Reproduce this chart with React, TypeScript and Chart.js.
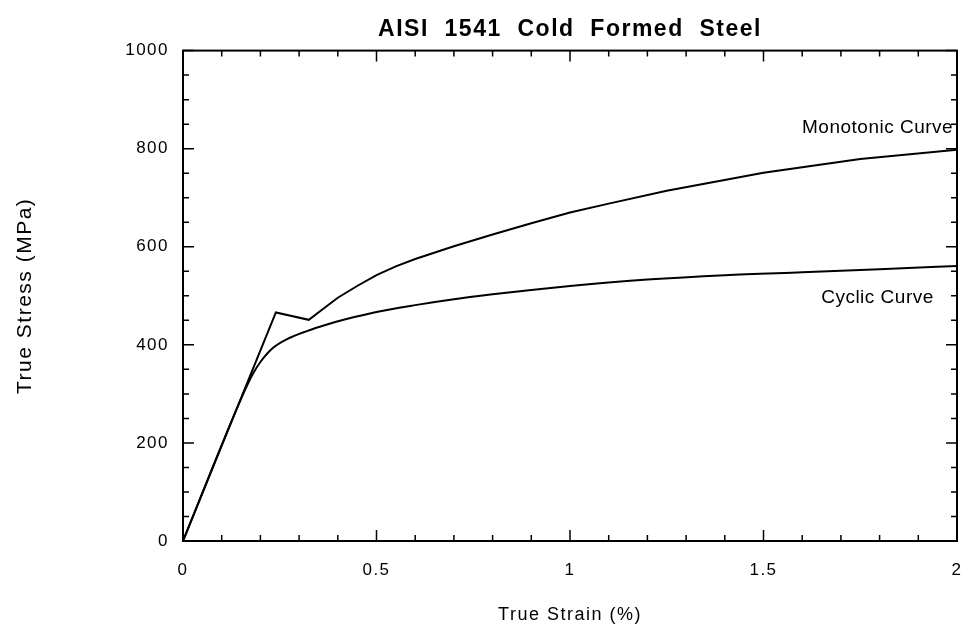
import { useEffect, useRef } from "react";
import { Chart, registerables } from "chart.js";

Chart.register(...registerables);

const chartTitle = "AISI  1541  Cold  Formed  Steel";
const xAxisTitle = "True Strain (%)";
const yAxisTitle = "True Stress (MPa)";

const monotonicStrain = [0, 0.24, 0.325, 0.36, 0.4, 0.45, 0.5, 0.55, 0.6, 0.7, 0.8, 0.9, 1.0, 1.1, 1.25, 1.5, 1.75, 2.0];
const monotonicStress = [0, 466, 451, 472, 496, 520, 542, 560, 575, 601, 625, 648, 670, 688, 714, 751, 779, 798];

const cyclicStrain = [0, 0.15, 0.18, 0.2, 0.23, 0.27, 0.32, 0.37, 0.42, 0.5, 0.6, 0.7, 0.8, 0.9, 1.0, 1.2, 1.4, 1.6, 1.8, 2.0];
const cyclicStress = [0, 290, 340, 365, 392, 412, 428, 441, 452, 467, 481, 493, 503, 512, 520, 533, 542, 548, 554, 561];

const xTickValues = [0, 0.5, 1, 1.5, 2];
const xTickLabels = ["0", "0.5", "1", "1.5", "2"];
const yTickValues = [0, 200, 400, 600, 800, 1000];
const yTickLabels = ["0", "200", "400", "600", "800", "1000"];

const xMinorStep = 0.1;
const yMinorStep = 50;

const curveLabels = ["Monotonic Curve", "Cyclic Curve"];
const curveLabelStrain = [1.99, 1.94];
const curveLabelStress = [843, 497];

const FONT = "'Liberation Sans', Arial, Helvetica, sans-serif";

const framePlugin = {
  id: "frame",
  beforeDraw(chart: any) {
    chart.ctx.letterSpacing = "1.5px";
  },
  afterDatasetsDraw(chart: any) {
    const { ctx, chartArea: a, scales } = chart;
    const xs = scales.x;
    const ys = scales.y;
    ctx.save();
    ctx.strokeStyle = "#000";
    ctx.lineWidth = 2;
    ctx.strokeRect(a.left, a.top, a.right - a.left, a.bottom - a.top);
    ctx.lineWidth = 1.5;
    ctx.beginPath();
    const nx = Math.round((xs.max - xs.min) / xMinorStep);
    for (let i = 0; i <= nx; i++) {
      const v = xs.min + i * xMinorStep;
      const px = xs.getPixelForValue(v);
      const len = i % 5 === 0 ? 11 : 6;
      ctx.moveTo(px, a.bottom);
      ctx.lineTo(px, a.bottom - len);
      ctx.moveTo(px, a.top);
      ctx.lineTo(px, a.top + len);
    }
    const ny = Math.round((ys.max - ys.min) / yMinorStep);
    for (let i = 0; i <= ny; i++) {
      const v = ys.min + i * yMinorStep;
      const py = ys.getPixelForValue(v);
      const len = i % 4 === 0 ? 11 : 6;
      ctx.moveTo(a.left, py);
      ctx.lineTo(a.left + len, py);
      ctx.moveTo(a.right, py);
      ctx.lineTo(a.right - len, py);
    }
    ctx.stroke();

    ctx.fillStyle = "#000";
    ctx.letterSpacing = "0.5px";
    ctx.font = `19px ${FONT}`;
    ctx.textAlign = "right";
    ctx.textBaseline = "middle";
    curveLabels.forEach((t, i) => {
      ctx.fillText(t, xs.getPixelForValue(curveLabelStrain[i]), ys.getPixelForValue(curveLabelStress[i]));
    });
    ctx.restore();
  },
  afterDraw(chart: any) {
    chart.ctx.letterSpacing = "0px";
  },
};

export default function App() {
  const canvasRef = useRef<HTMLCanvasElement | null>(null);

  useEffect(() => {
    const canvas = canvasRef.current;
    if (!canvas) return;
    const monotonic = monotonicStrain.map((x, i) => ({ x, y: monotonicStress[i] }));
    const cyclic = cyclicStrain.map((x, i) => ({ x, y: cyclicStress[i] }));

    const chart = new Chart(canvas, {
      type: "line",
      data: {
        datasets: [
          {
            label: "Monotonic Curve",
            data: monotonic,
            borderColor: "#000",
            borderWidth: 2,
            pointRadius: 0,
            tension: 0,
            fill: false,
          },
          {
            label: "Cyclic Curve",
            data: cyclic,
            borderColor: "#000",
            borderWidth: 2,
            pointRadius: 0,
            cubicInterpolationMode: "monotone",
            fill: false,
          },
        ],
      },
      options: {
        animation: false,
        responsive: false,
        events: [],
        layout: { padding: { left: 0, right: 4, top: 0, bottom: 0 } },
        plugins: {
          legend: { display: false },
          tooltip: { enabled: false },
          title: {
            display: true,
            text: chartTitle,
            fullSize: false,
            color: "#000",
            font: { size: 23, weight: "bold", family: FONT },
            padding: { top: 16, bottom: 7 },
          },
        },
        scales: {
          x: {
            type: "linear",
            min: 0,
            max: 2,
            afterFit: (s: any) => {
              s.height = 95;
              s.paddingLeft = 0;
              s.paddingRight = 0;
            },
            grid: { display: false, drawTicks: false },
            border: { display: false },
            ticks: {
              stepSize: 0.5,
              autoSkip: false,
              maxRotation: 0,
              padding: 19,
              color: "#000",
              font: { size: 17, family: FONT },
              callback: (v: any) => {
                const i = xTickValues.indexOf(Number(v));
                return i >= 0 ? xTickLabels[i] : "";
              },
            },
            title: {
              display: true,
              text: xAxisTitle,
              color: "#000",
              font: { size: 18, family: FONT },
              padding: { top: 0, bottom: 10 },
            },
          },
          y: {
            type: "linear",
            min: 0,
            max: 1000,
            afterFit: (s: any) => {
              s.width = 183;
              s.paddingTop = 0;
              s.paddingBottom = 0;
            },
            grid: { display: false, drawTicks: false },
            border: { display: false },
            ticks: {
              stepSize: 200,
              autoSkip: false,
              padding: 14,
              color: "#000",
              font: { size: 17, family: FONT },
              callback: (v: any) => {
                const i = yTickValues.indexOf(Number(v));
                return i >= 0 ? yTickLabels[i] : "";
              },
            },
            title: {
              display: true,
              text: yAxisTitle,
              color: "#000",
              font: { size: 21, family: FONT },
              padding: { top: 13, bottom: 0 },
            },
          },
        },
      } as any,
      plugins: [framePlugin],
    });

    return () => {
      chart.destroy();
    };
  }, []);

  return (
    <div style={{ position: "absolute", left: 0, top: 0, width: 961, height: 636, background: "#fff" }}>
      <canvas ref={canvasRef} width={961} height={636} />
    </div>
  );
}
